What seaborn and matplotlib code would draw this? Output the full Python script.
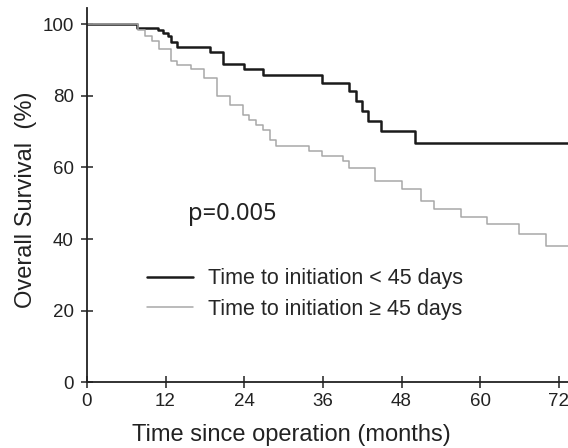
import matplotlib
matplotlib.use("Agg")
import matplotlib.pyplot as plt
import seaborn as sns
import pandas as pd

# Kaplan-Meier step points (months, % surviving)
early_months = [0, 7.6, 10.9, 11.6, 12.4, 12.9, 13.7, 18.8, 20.8, 23.9, 26.9,
                35.9, 40.0, 41.0, 41.9, 42.9, 44.9, 50.0, 74]
early_surv = [100, 99.0, 98.3, 97.5, 96.7, 95.0, 93.7, 92.4, 89.0, 87.6, 85.9,
              83.7, 81.3, 78.5, 75.7, 72.9, 70.1, 66.9, 66.9]

late_months = [0, 7.8, 8.8, 9.9, 11.0, 12.8, 13.8, 15.9, 17.9, 19.9, 21.9, 23.8,
               24.8, 25.8, 26.9, 27.9, 28.9, 33.9, 35.9, 39.0, 40.0, 43.9, 48.0,
               50.9, 53.0, 57.0, 61.0, 66.0, 70.0, 74]
late_surv = [100, 98.4, 96.7, 95.3, 93.1, 89.7, 88.7, 87.6, 84.9, 79.9, 77.4, 74.7,
             73.4, 72.0, 70.6, 67.8, 65.9, 64.5, 63.1, 61.7, 59.9, 56.2, 54.0,
             50.6, 48.5, 46.2, 44.1, 41.3, 38.2, 38.2]

group_labels = ["Time to initiation < 45 days", "Time to initiation \u2265 45 days"]
x_ticks = [0, 12, 24, 36, 48, 60, 72]
y_ticks = [0, 20, 40, 60, 80, 100]
p_text = "p=0.005"

df = pd.concat([
    pd.DataFrame({"month": early_months, "surv": early_surv, "group": group_labels[0]}),
    pd.DataFrame({"month": late_months, "surv": late_surv, "group": group_labels[1]}),
])

sns.set_style("ticks")
plt.rcParams["font.family"] = ["Liberation Sans", "DejaVu Sans"]

fig = plt.figure(figsize=(5.68, 4.48), dpi=100)
ax = fig.add_axes([0.153, 0.1467, 0.847, 0.835])

sns.lineplot(data=df, x="month", y="surv", hue="group", estimator=None,
             palette={group_labels[0]: "#1a1a1a", group_labels[1]: "#a8a8a8"},
             drawstyle="steps-post", ax=ax, legend=False)
lines = ax.get_lines()
lines[0].set_linewidth(1.8)
lines[1].set_linewidth(1.1)

ax.set_xlim(0, 73.4)
ax.set_ylim(0, 104.5)
ax.set_xticks(x_ticks)
ax.set_yticks(y_ticks)
ax.tick_params(direction="inout", length=9, width=1.1, labelsize=13.5, colors="#222222")
ax.tick_params(axis="y", pad=5)
for side in ["top", "right"]:
    ax.spines[side].set_visible(False)
for side in ["left", "bottom"]:
    ax.spines[side].set_linewidth(1.3)
    ax.spines[side].set_color("#222222")

ax.set_xlabel("Time since operation (months)", fontsize=17, labelpad=10, color="#222222")
ax.set_ylabel("Overall Survival  (%)", fontsize=17, labelpad=4, color="#222222")
ax.xaxis.label.set_x(0.424)
ax.yaxis.label.set_y(0.487)

ax.text(15.4, 47, p_text, fontsize=17, family=["Noto Sans", "DejaVu Sans"],
        va="center", ha="left", color="#222222")

ax.legend(lines, group_labels, loc="upper left", bbox_to_anchor=(0.085, 0.356),
          frameon=False, fontsize=15.5, handlelength=2.14, handletextpad=0.7,
          labelspacing=0.44)

fig.savefig("out.png", dpi=100)
